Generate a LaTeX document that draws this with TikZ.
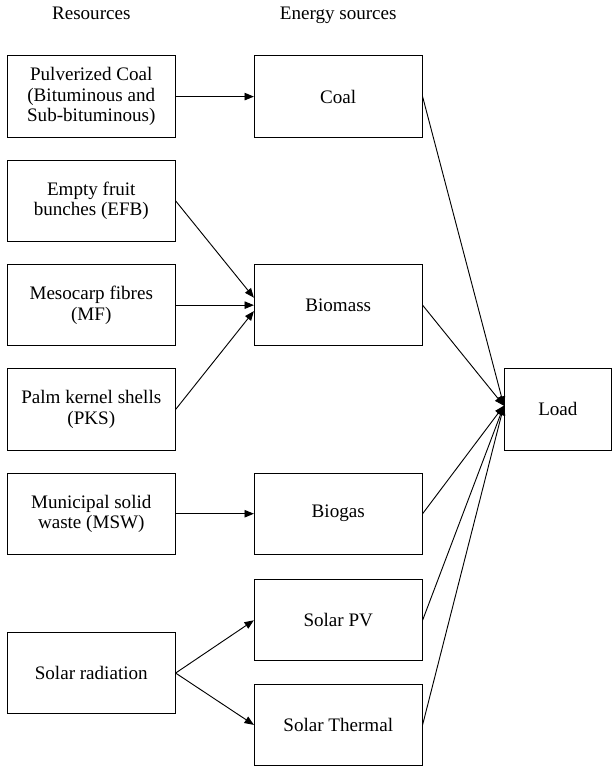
\documentclass[tikz,border=0pt]{standalone}
\usepackage{fontspec}
\setmainfont{Liberation Serif}
\newfontfamily\timesfont{Liberation Serif}
\usetikzlibrary{positioning, arrows.meta}

\begin{document}
\begin{tikzpicture}[
    node distance=0.59cm and 2.09cm,
    res/.style={rectangle, draw, line width=0.7pt, align=center, minimum width=4.48cm, minimum height=2.17cm, inner sep=2pt, font=\timesfont\fontsize{14.5}{15.6}\selectfont},
    loadbox/.style={res, minimum width=2.86cm},
    heading/.style={inner sep=0pt, text depth=0pt, font=\timesfont\fontsize{14.5}{15.6}\selectfont},
    arrow/.style={-{Triangle[length=2.5mm, width=2mm]}, line width=0.7pt}
]
% resources
\node[res] (coalres) {Pulverized Coal\\(Bituminous and\\Sub-bituminous)};
\node[res, below=of coalres] (efb) {Empty fruit\\bunches (EFB)};
\node[res, below=of efb] (mf) {Mesocarp fibres\\(MF)};
\node[res, below=of mf] (pks) {Palm kernel shells\\(PKS)};
\node[res, below=of pks] (msw) {Municipal solid\\waste (MSW)};
\node[res, below=2.06cm of msw] (solar) {Solar radiation};

% energy sources
\node[res, right=of coalres] (coal) {Coal};
\node[res, right=of mf] (biomass) {Biomass};
\node[res, right=of msw] (biogas) {Biogas};
\node[res, below=0.65cm of biogas] (pv) {Solar PV};
\node[res, below=0.6cm of pv] (thermal) {Solar Thermal};

\node[loadbox, anchor=west, xshift=2.17cm] (load) at (biomass.east |- pks) {Load};

\node[heading, above=0.95cm of coalres] (reshead) {Resources};
\node[heading, above=0.95cm of coal] (enhead) {Energy sources};

\useasboundingbox ([shift={(-0.185cm,1.482cm)}]coalres.north west) rectangle ++(16.27cm,-20.27cm);

\draw[arrow] (coalres) -- (coal);
\draw[arrow] (efb.east) -- ([yshift=0.2cm]biomass.west);
\draw[arrow] (mf) -- (biomass);
\draw[arrow] (pks.east) -- ([yshift=-0.16cm]biomass.west);
\draw[arrow] (msw) -- (biogas);
\draw[arrow] (solar.east) -- (pv.west);
\draw[arrow] (solar.east) -- (thermal.west);

\draw[arrow] (coal.east) -- ([yshift=1mm]load.west);
\draw[arrow] (biomass.east) -- ([yshift=1mm]load.west);
\draw[arrow] (biogas.east) -- ([yshift=1mm]load.west);
\draw[arrow] (pv.east) -- ([yshift=1mm]load.west);
\draw[arrow] (thermal.east) -- ([yshift=1mm]load.west);
\end{tikzpicture}
\end{document}
